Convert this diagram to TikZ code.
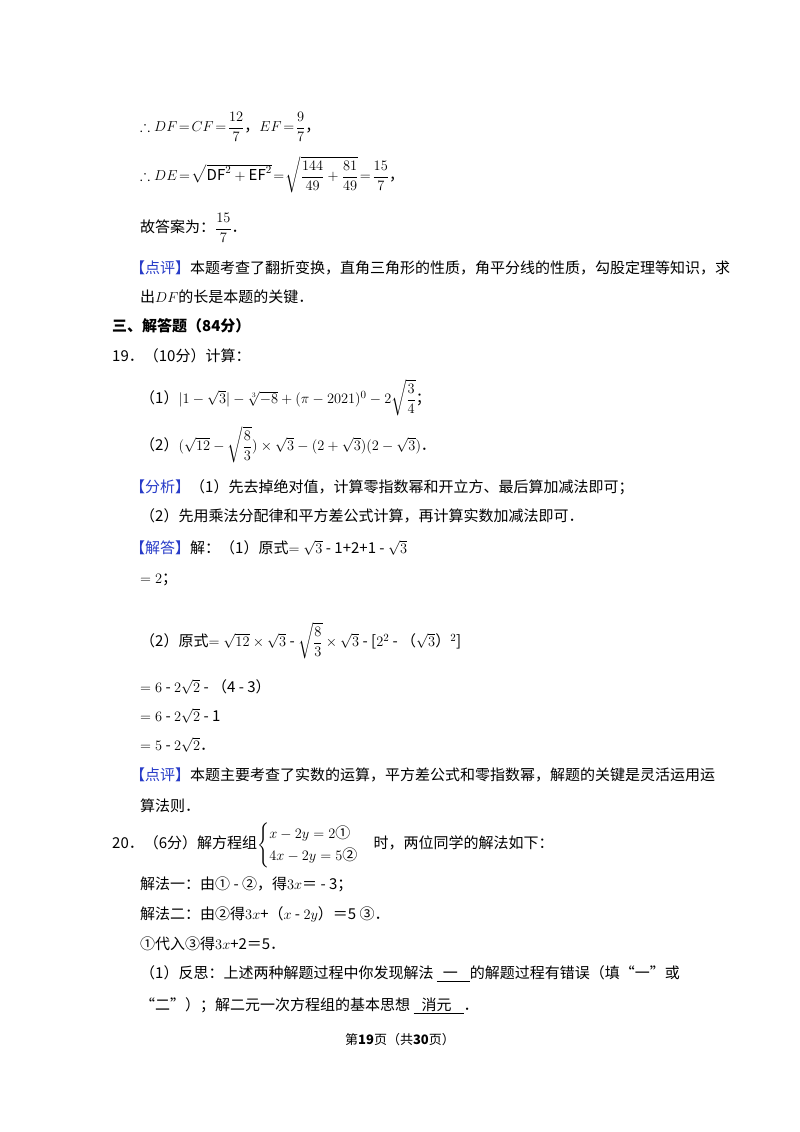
\documentclass[tikz,border=0pt]{standalone}
\usepackage{amsmath,amssymb}
\usepackage{fontspec}
\setmainfont{Noto Sans CJK SC}
\definecolor{blu}{RGB}{40,60,200}
\newcommand{\bq}[1]{\textcolor{blu}{【#1】}}
\begin{document}
\begin{tikzpicture}[x=1pt,y=1pt,
  ln/.style={anchor=west,inner sep=0pt,font=\fontsize{15}{18}\selectfont}]
\useasboundingbox[fill=white] (0,0) rectangle (800,-1132);
\node[ln] (l1) at (140,-127) {$\therefore DF\!=\!CF\!=\!\dfrac{12}{7}$，$EF\!=\!\dfrac{9}{7}$，};
\node[ln] (l2) at (140,-175) {$\therefore DE\!=\!\sqrt{\mathrm{DF}^2+\mathrm{EF}^2}\!=\!\sqrt{\dfrac{144}{49}+\dfrac{81}{49}}\!=\!\dfrac{15}{7}$，};
\node[ln] (l3) at (140,-228) {故答案为：$\dfrac{15}{7}$．};
\node[ln] (l4) at (130,-268) {\bq{点评}本题考查了翻折变换，直角三角形的性质，角平分线的性质，勾股定理等知识，求};
\node[ln] (l5) at (140,-297) {出$DF$的长是本题的关键．};
\node[ln,font=\fontsize{15}{18}\selectfont\bfseries] (l6) at (112,-326) {三、解答题（84分）};
\node[ln] (l7) at (112,-356) {19．（10分）计算：};
\node[ln] (l8) at (140,-398) {（1）$|1-\sqrt3|-\sqrt[3]{-8}+(\pi-2021)^0-2\sqrt{\dfrac34}$；};
\node[ln] (l9) at (140,-445) {（2）$(\sqrt{12}-\sqrt{\dfrac83})\times\sqrt3-(2+\sqrt3)(2-\sqrt3)$．};
\node[ln] (l10) at (130,-487) {\bq{分析}（1）先去掉绝对值，计算零指数幂和开立方、最后算加减法即可；};
\node[ln] (l11) at (140,-516) {（2）先用乘法分配律和平方差公式计算，再计算实数加减法即可．};
\node[ln] (l12) at (130,-548) {\bq{解答}解：（1）原式$=\sqrt3$ - 1+2+1 - $\sqrt3$};
\node[ln] (l13) at (140,-580) {$=2$；};
\node[ln] (l14) at (140,-641) {（2）原式$=\sqrt{12}\times\sqrt3$ - $\sqrt{\dfrac83}\times\sqrt3$ - [$2^2$ - （$\sqrt3$）$^2$]};
\node[ln] (l15) at (140,-687) {$=6$ - $2\sqrt2$ - （4 - 3）};
\node[ln] (l16) at (140,-716) {$=6$ - $2\sqrt2$ - 1};
\node[ln] (l17) at (140,-745) {$=5$ - $2\sqrt2$．};
\node[ln] (l18) at (130,-775) {\bq{点评}本题主要考查了实数的运算，平方差公式和零指数幂，解题的关键是灵活运用运};
\node[ln] (l19) at (140,-806) {算法则．};
\node[ln] (l20) at (112,-845) {20．（6分）解方程组$\begin{cases}x-2y=2\text{①}\\4x-2y=5\text{②}\end{cases}$时，两位同学的解法如下：};
\node[ln] (l21) at (140,-884) {解法一：由① - ②，得$3x$＝ - 3；};
\node[ln] (l22) at (140,-914) {解法二：由②得$3x$+（$x$ - $2y$）＝5 ③．};
\node[ln] (l23) at (140,-944) {①代入③得$3x$+2＝5．};
\node[ln] (l24) at (140,-974) {（1）反思：上述两种解题过程中你发现解法 \underline{\hspace{6pt}一\hspace{12pt}}的解题过程有错误（填“一”或};
\node[ln] (l25) at (140,-1006) {“二”）；解二元一次方程组的基本思想 \underline{\hspace{8pt}消元\hspace{12pt}}．};
\node[inner sep=0pt,font=\fontsize{13}{16}\selectfont] (ft) at (400,-1040) {第\textbf{19}页（共\textbf{30}页）};
\end{tikzpicture}
\end{document}
